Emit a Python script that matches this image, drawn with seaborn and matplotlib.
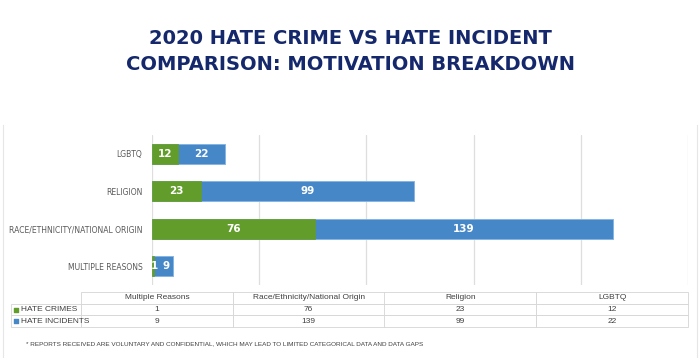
import matplotlib
matplotlib.use('Agg')
import matplotlib.pyplot as plt
import seaborn as sns
import pandas as pd

# data
categories = ['LGBTQ', 'RELIGION', 'RACE/ETHNICITY/NATIONAL ORIGIN', 'MULTIPLE REASONS']
hate_crimes = [12, 23, 76, 1]
hate_incidents = [22, 99, 139, 9]

table_cols = ['Multiple Reasons', 'Race/Ethnicity/National Origin', 'Religion', 'LGBTQ']
series_names = ['HATE CRIMES', 'HATE INCIDENTS']

title_lines = ['2020 HATE CRIME VS HATE INCIDENT', 'COMPARISON: MOTIVATION BREAKDOWN']
footnote = '* REPORTS RECEIVED ARE VOLUNTARY AND CONFIDENTIAL, WHICH MAY LEAD TO LIMITED CATEGORICAL DATA AND DATA GAPS'

GREEN = '#629d2c'
BLUE = '#4687c8'
NAVY = '#15286c'
GRID = '#dedede'
TXT = '#595959'
NARROW = ['Liberation Sans Narrow', 'Liberation Sans', 'DejaVu Sans']

sns.set_style('white')
plt.rcParams['font.family'] = ['DejaVu Sans']

df = pd.DataFrame({'category': categories,
                   'crimes': hate_crimes,
                   'incidents': hate_incidents})
df['total'] = df['crimes'] + df['incidents']

W, H = 700, 358
fig = plt.figure(figsize=(W / 100, H / 100), dpi=100)

# ============================================
# title
# ============================================
fig.text(0.5, 1 - 38 / H, title_lines[0], ha='center', va='center',
         fontsize=14, fontweight='bold', color=NAVY)
fig.text(0.5, 1 - 64 / H, title_lines[1], ha='center', va='center',
         fontsize=14, fontweight='bold', color=NAVY)

# faint frame around the chart region
frame = fig.add_axes([3 / W, 0, 694 / W, 1 - 125 / H])
frame.set_xticks([])
frame.set_yticks([])
for side in ['top', 'bottom']:
    frame.spines[side].set_visible(False)
for side in ['left', 'right']:
    frame.spines[side].set_color('#e6e6e6')
    frame.spines[side].set_linewidth(0.8)
frame.patch.set_alpha(0)

# ============================================
# stacked horizontal bars
# ============================================
ax = fig.add_axes([152 / W, 1 - 285 / H, 536 / W, 150 / H])
sns.barplot(data=df, x='total', y='category', color=BLUE, orient='h', saturation=1,
            width=0.53, edgecolor='#86b5e3', linewidth=0.7, ax=ax)
sns.barplot(data=df, x='crimes', y='category', color=GREEN, orient='h', saturation=1,
            width=0.53, edgecolor=GREEN, linewidth=0.5, ax=ax)

for i, row in df.iterrows():
    ax.text(max(row['crimes'] / 2, 1.2), i, str(row['crimes']), ha='center', va='center',
            color='white', fontsize=7.5, fontweight='bold')
    ax.text(row['crimes'] + row['incidents'] / 2 + (1.2 if row['incidents'] < 15 else 0), i,
            str(row['incidents']), ha='center', va='center', color='white',
            fontsize=7.5, fontweight='bold')

ax.set_xlim(0, 250)
ax.set_ylim(3.5, -0.5)
ax.set_xticks(range(0, 251, 50))
ax.set_xticklabels([])
ax.grid(axis='x', color=GRID, linewidth=0.9)
ax.set_axisbelow(True)
ax.tick_params(axis='both', length=0, pad=7)
ax.set_xlabel('')
ax.set_ylabel('')
ax.set_yticks(range(len(categories)))
ax.set_yticklabels(categories, fontsize=5.5, color=TXT)
for s in ax.spines.values():
    s.set_visible(False)
ax.patch.set_alpha(0)

# ============================================
# data table under the bars
# ============================================
tab_ax = fig.add_axes([11 / W, 1 - 327 / H, 677 / W, 35 / H])
tab_ax.axis('off')
tab_ax.set_xlim(0, 1)
tab_ax.set_ylim(0, 1)

cell_rows = []
for vals in [hate_crimes, hate_incidents]:
    by_cat = dict(zip(categories, vals))
    cell_rows.append([''] + [str(by_cat[c.upper()]) for c in table_cols])

first_w = 70 / 677
col_w = (1 - first_w) / 4
tbl = tab_ax.table(cellText=cell_rows, colLabels=[''] + table_cols,
                   colWidths=[first_w] + [col_w] * 4, cellLoc='center',
                   bbox=[0, 0, 1, 1])
tbl.auto_set_font_size(False)
tbl.set_fontsize(6)
for (r, c), cell in tbl.get_celld().items():
    cell.set_edgecolor('#d4d4d4')
    cell.set_linewidth(0.6)
    cell.get_text().set_color('#404040')
    cell.get_text().set_fontfamily(NARROW)
tbl[0, 0].visible_edges = ''

# legend keys in the first column
for k, (name, col) in enumerate(zip(series_names, [GREEN, BLUE])):
    yc = 1 - (k + 1.5) / 3
    tab_ax.scatter([0.0075], [yc], marker='s', s=9, color=col, clip_on=False)
    tab_ax.text(0.0145, yc, name, ha='left', va='center', fontsize=6, color='#404040',
                family=NARROW)

# footnote
fig.text(26 / W, 1 - 344 / H, footnote, ha='left', va='center', fontsize=4.6,
         color='#404040', family=NARROW)

fig.savefig('out.png', dpi=100)
